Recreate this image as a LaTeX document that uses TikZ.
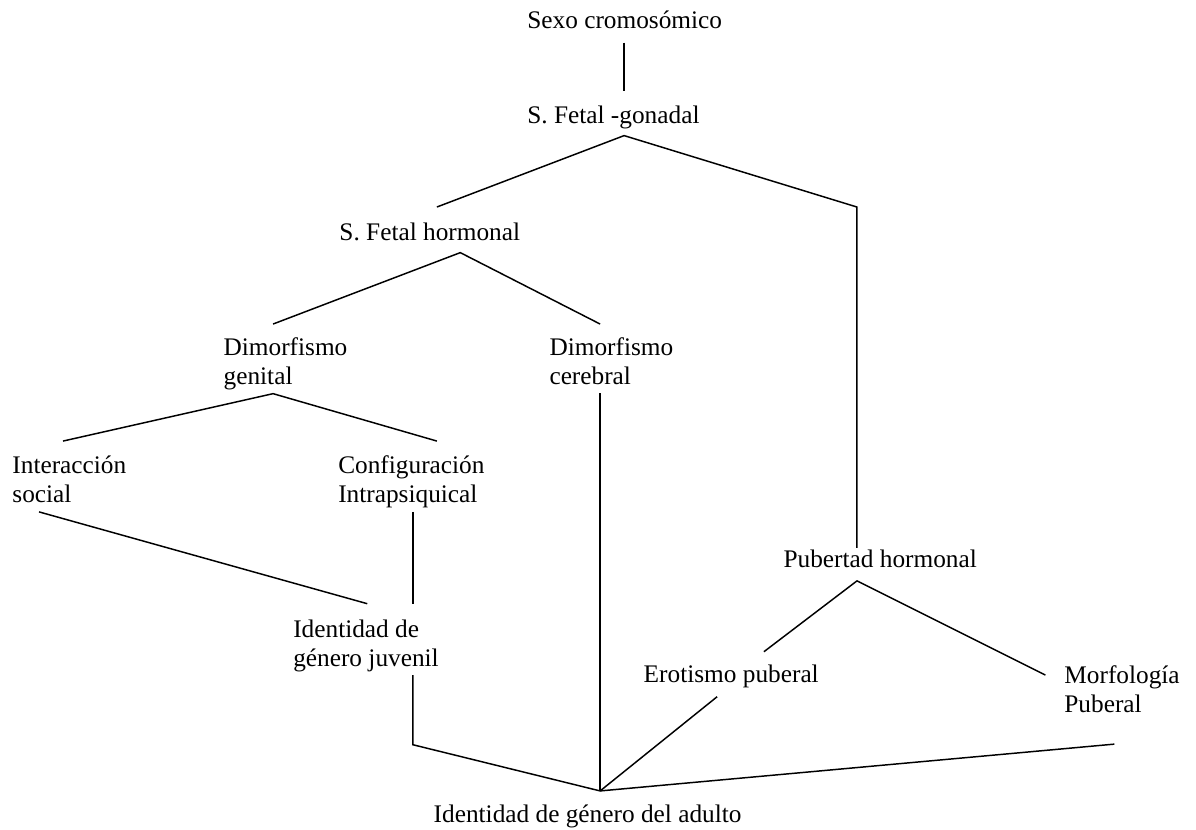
\documentclass[tikz,border=0pt]{standalone}
\usepackage{fontspec}
\setmainfont{Liberation Serif}
\tikzset{rama/.style={draw=black,line width=.7pt}}

\begin{document}
\begin{tikzpicture}
\useasboundingbox (0,0) rectangle (19.93,13.83);
\begin{scope}[every node/.style={anchor=base west,inner sep=0pt,align=left,
    font=\fontsize{12}{14}\selectfont}]
\node (S) at (8.78,13.35) {Sexo cromosómico};
\node (G) at (8.78,11.77) {S. Fetal -gonadal};
\node (H) at (5.65,9.83) {S. Fetal hormonal};
\node (DG) at (3.72,7.42) {Dimorfismo\\genital};
\node (DC) at (9.15,7.42) {Dimorfismo\\cerebral};
\node (IS) at (0.20,5.45) {Interacción\\social};
\node (CI) at (5.63,5.45) {Configuración\\Intrapsiquical};
\node (IJ) at (4.88,2.72) {Identidad de\\género juvenil};
\node (PH) at (13.05,4.38) {Pubertad hormonal};
\node (EP) at (10.72,2.45) {Erotismo puberal};
\node (MP) at (17.73,1.95) {Morfología\\Puberal};
\node (IA) at (7.22,0.12) {Identidad de género del adulto};
\end{scope}
\begin{scope}[every path/.style={rama}]
% puntos de las ramas
\coordinate (S1) at (10.40,13.12);
\coordinate (S2) at (10.40,12.32);
\coordinate (G0) at (10.40,11.57);
\coordinate (G1) at (7.28,10.38);
\coordinate (G2) at (14.28,10.38);
\coordinate (G3) at (14.28,4.70);
\coordinate (H0) at (7.67,9.62);
\coordinate (H1) at (4.55,8.43);
\coordinate (H2) at (10.00,8.43);
\coordinate (DG0) at (4.55,7.27);
\coordinate (DG1) at (1.05,6.48);
\coordinate (DG2) at (7.28,6.48);
\coordinate (DC0) at (10.00,7.28);
\coordinate (IS0) at (0.65,5.30);
\coordinate (CI0) at (6.88,5.30);
\coordinate (IJ1) at (6.12,3.77);
\coordinate (IJ2) at (6.88,3.77);
\coordinate (IJ0) at (6.88,2.58);
\coordinate (IJ3) at (6.88,1.42);
\coordinate (A) at (10.00,0.65);
\coordinate (PH0) at (14.28,4.15);
\coordinate (EP1) at (12.73,2.97);
\coordinate (EP0) at (11.95,2.22);
\coordinate (MP1) at (17.42,2.58);
\coordinate (MP0) at (18.57,1.43);

\draw (S1) -- (S2);
\draw (G1) -- (G0) -- (G2) -- (G3);
\draw (H1) -- (H0) -- (H2);
\draw (DG1) -- (DG0) -- (DG2);
\draw (DC0) -- (A);
\draw (IS0) -- (IJ1);
\draw (CI0) -- (IJ2);
\draw (IJ0) -- (IJ3) -- (A) -- (MP0);
\draw (EP0) -- (A);
\draw (EP1) -- (PH0) -- (MP1);
\end{scope}
\end{tikzpicture}
\end{document}
